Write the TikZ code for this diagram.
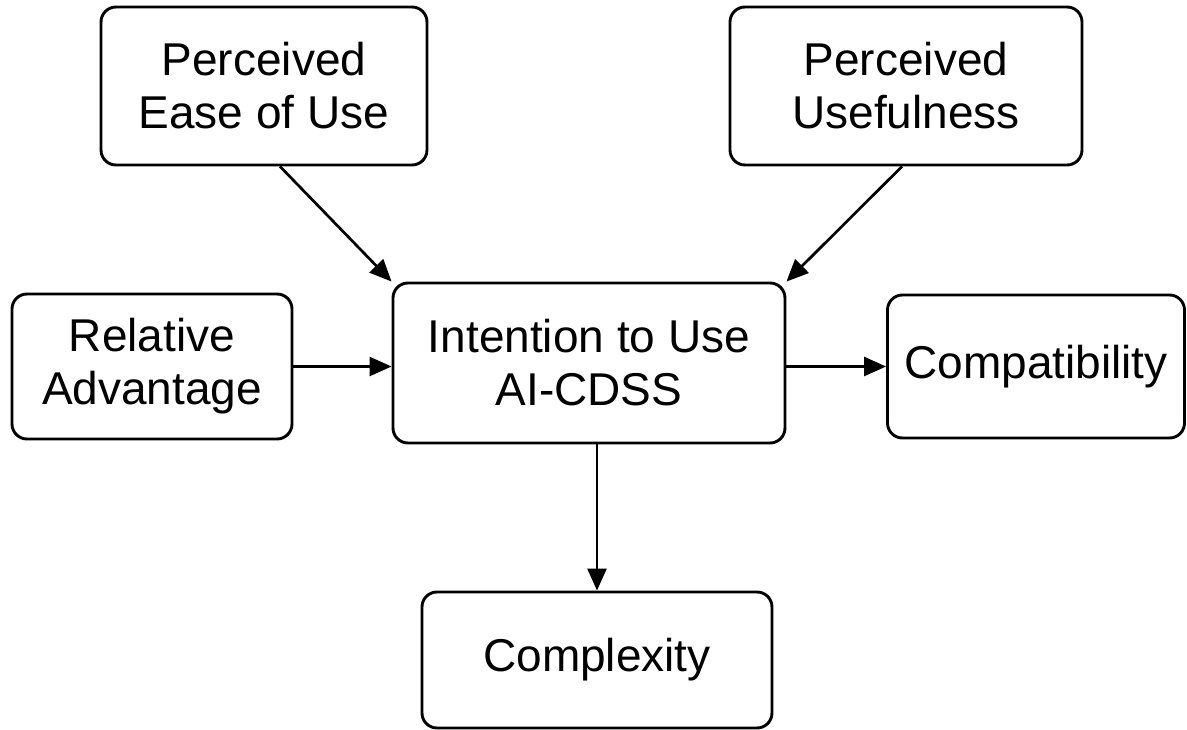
\documentclass[tikz,border=0pt]{standalone}
\usepackage{fontspec}
\setmainfont{Liberation Sans}
\usetikzlibrary{arrows.meta}
\begin{document}
\begin{tikzpicture}[x=1pt,y=-1pt,
  box/.style={draw=black, line width=2.9pt, rounded corners=15pt, fill=white,
    align=center, inner sep=0pt,
    font=\fontsize{46}{53}\selectfont},
  link/.style={draw=black, line width=2.7pt,
    -{Triangle[length=22pt,width=19pt]}}]
  \useasboundingbox (0,0) rectangle (1187,730);
  % constructs
  \node[box, minimum width=326pt, minimum height=158pt] (peou) at (264,86)
    {Perceived\\Ease of Use};
  \node[box, minimum width=352pt, minimum height=158pt] (pu) at (906,86)
    {Perceived\\Usefulness};
  \node[box, minimum width=280pt, minimum height=145pt] (ra) at (152,366.5)
    {Relative\\Advantage};
  \node[box, minimum width=392pt, minimum height=160pt] (itu) at (589,363)
    {Intention to Use\\AI-CDSS};
  \node[box, minimum width=297pt, minimum height=143pt] (compat) at (1036,366.5)
    {Compatibility};
  \node[box, minimum width=350pt, minimum height=136pt] (cx) at (597,660)
    {Complexity};
  % relations
  \draw[link] ([xshift=16pt]peou.south) -- (itu.north west);
  \draw[link] ([xshift=-4pt]pu.south) -- (itu.north east);
  \draw[link] (ra.east) -- (ra.east -| itu.west);
  \draw[link] (itu.east |- compat.west) -- (compat.west);
  \draw[link] (itu.south -| cx.north) -- (cx.north);
\end{tikzpicture}
\end{document}
